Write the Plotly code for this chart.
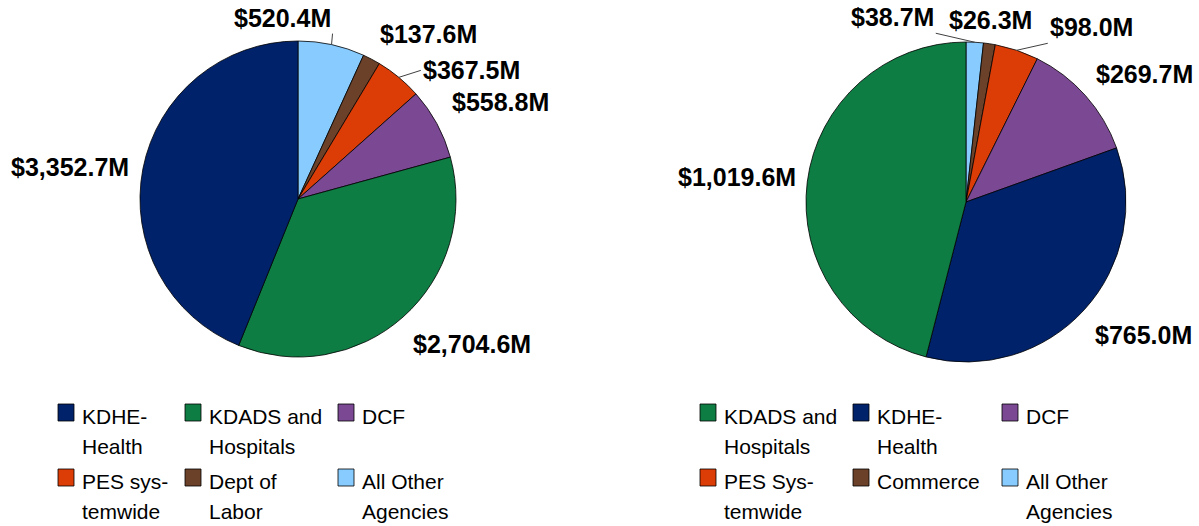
import math
import plotly.graph_objects as go

# ---- data ----
left_labels = ["KDHE-Health", "KDADS and Hospitals", "DCF", "PES systemwide", "Dept of Labor", "All Other Agencies"]
left_values = [3352.7, 2704.6, 558.8, 367.5, 137.6, 520.4]
left_legend_text = [["KDHE-", "Health"], ["KDADS and", "Hospitals"], ["DCF"],
                    ["PES sys-", "temwide"], ["Dept of", "Labor"], ["All Other", "Agencies"]]

right_labels = ["KDADS and Hospitals", "KDHE-Health", "DCF", "PES Systemwide", "Commerce", "All Other Agencies"]
right_values = [1019.6, 765.0, 269.7, 98.0, 26.3, 38.7]
right_legend_text = [["KDADS and", "Hospitals"], ["KDHE-", "Health"], ["DCF"],
                     ["PES Sys-", "temwide"], ["Commerce"], ["All Other", "Agencies"]]

# ---- styles ----
NAVY, GREEN, PURPLE, ORANGE, BROWN, LBLUE = "#00226A", "#0E7D43", "#7B4893", "#DC3C06", "#6B4229", "#88CCFF"
left_colors = [NAVY, GREEN, PURPLE, ORANGE, BROWN, LBLUE]
right_colors = [GREEN, NAVY, PURPLE, ORANGE, BROWN, LBLUE]

# label placement (pixel offsets from the slice-edge point, anchors, leader line)
left_label_style = [
    dict(off=(-73, -2)), dict(off=(69, 27)), dict(off=(64, -22)),
    dict(off=(22, -7), leader=True, xa="left", ya="middle"),
    dict(off=(57, -25)),
    dict(off=(1, -11), leader=True, xa="right", ya="bottom"),
]
right_label_style = [
    dict(off=(-70, -5)), dict(off=(59, 25)), dict(off=(59, -22)),
    dict(off=(31, -7), leader=True, xa="left", ya="bottom"),
    dict(off=(1, -24)),
    dict(off=(-39, -9), leader=True, xa="right", ya="bottom"),
]

W, H = 1199, 526
FONT = "Liberation Sans, Arial, sans-serif"


def px(x):
    return x / W


def py(y):
    return 1 - y / H


fig = go.Figure()
shapes = []
annotations = []

pies = [
    (left_labels, left_values, left_colors, left_label_style, ((140, 456), (41, 357))),
    (right_labels, right_values, right_colors, right_label_style, ((806, 1126), (42, 362))),
]

for labels, values, colors, lstyle, dom in pies:
    # slices run counter-clockwise from 12 o'clock in legend order
    # (drawn clockwise from 12 o'clock in reversed order)
    fig.add_trace(go.Pie(
        labels=labels[::-1], values=values[::-1], sort=False,
        direction="clockwise", rotation=0,
        marker=dict(colors=colors[::-1], line=dict(color="black", width=0.8)),
        textinfo="none",
        hovertemplate="%{label}: $%{value:,.1f}M<extra></extra>",
        automargin=False,
        showlegend=False,
        domain=dict(x=[px(dom[0][0]), px(dom[0][1])], y=[py(dom[1][1]), py(dom[1][0])]),
    ))

    # data labels: anchored at the outer edge of each slice's mid-angle
    cx = (dom[0][0] + dom[0][1]) / 2
    cy = (dom[1][0] + dom[1][1]) / 2
    r = min(dom[0][1] - dom[0][0], dom[1][1] - dom[1][0]) / 2
    total = sum(values)
    cum = 0.0
    for v, st in zip(values, lstyle):
        mid = (cum + v / 2) / total * 2 * math.pi  # counter-clockwise from 12 o'clock
        cum += v
        ex = cx - r * math.sin(mid)
        ey = cy - r * math.cos(mid)
        txt = "<b>$" + f"{v:,.1f}" + "M</b>"
        dx, dy = st["off"]
        common = dict(text=txt, xref="paper", yref="paper", x=px(ex), y=py(ey),
                      font=dict(family=FONT, size=25, color="black"))
        if st.get("leader"):
            annotations.append(dict(**common, showarrow=True, arrowhead=0, arrowwidth=1,
                                    arrowcolor="#404040", standoff=0,
                                    ax=dx, ay=dy, xanchor=st["xa"], yanchor=st["ya"]))
        else:
            annotations.append(dict(**common, showarrow=False, xshift=dx, yshift=-dy,
                                    xanchor="center", yanchor="middle"))


def add_legend(texts, colors, col_x, row_y):
    for i, (lines, c) in enumerate(zip(texts, colors)):
        x0 = col_x[i % 3]
        y0 = row_y[i // 3]
        shapes.append(dict(type="rect", xref="paper", yref="paper",
                           x0=px(x0), x1=px(x0 + 16), y0=py(y0), y1=py(y0 + 17),
                           fillcolor=c, line=dict(color="black", width=0.8)))
        for j, t in enumerate(lines):
            annotations.append(dict(text=t, xref="paper", yref="paper",
                                    x=px(x0 + 22), y=py(y0 + 12 + j * 30),
                                    xanchor="left", yanchor="middle", showarrow=False,
                                    font=dict(family=FONT, size=21, color="black")))


add_legend(left_legend_text, left_colors, [58, 185, 338], [404, 469])
add_legend(right_legend_text, right_colors, [700, 853, 1002], [404, 469])

fig.update_layout(
    width=W, height=H, autosize=False,
    margin=dict(l=0, r=0, t=0, b=0, autoexpand=False),
    paper_bgcolor="white", plot_bgcolor="white",
    shapes=shapes, annotations=annotations,
    font=dict(family=FONT),
)

fig.write_html("out.html", config={"displayModeBar": False},
               post_script="document.body.style.margin='0px';document.body.style.overflow='hidden';")
